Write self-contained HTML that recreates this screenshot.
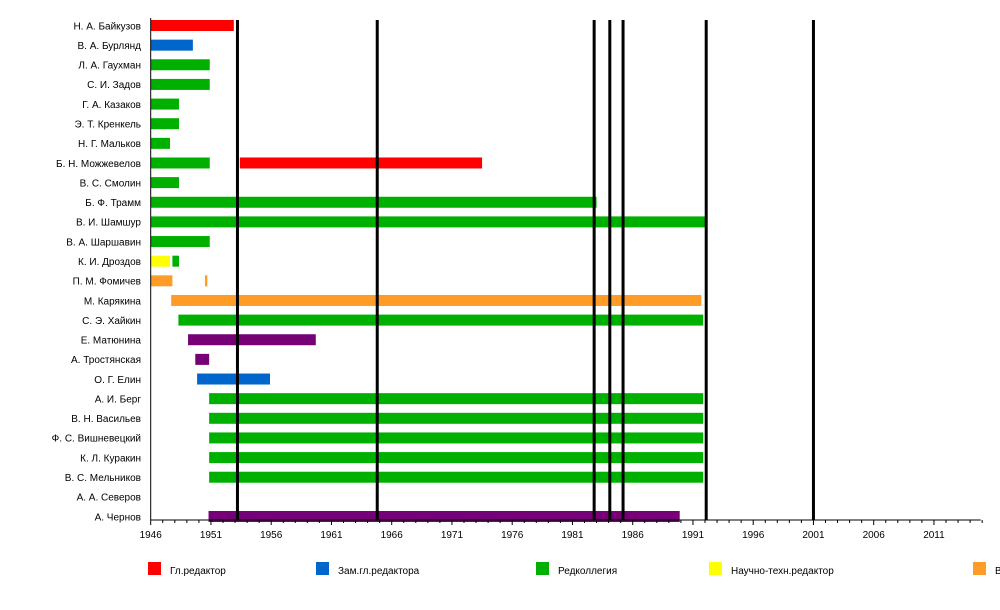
<!DOCTYPE html>
<html><head><meta charset="utf-8"><style>
body{margin:0;background:#fff;}
svg{display:block;font-family:"Liberation Sans","DejaVu Sans",sans-serif;}
</style></head><body>
<svg id="chart" width="1000" height="610"></svg>
<script>
const names=["Н. А. Байкузов","В. А. Бурлянд","Л. А. Гаухман","С. И. Задов","Г. А. Казаков","Э. Т. Кренкель","Н. Г. Мальков","Б. Н. Можжевелов","В. С. Смолин","Б. Ф. Трамм","В. И. Шамшур","В. А. Шаршавин","К. И. Дроздов","П. М. Фомичев","М. Карякина","С. Э. Хайкин","Е. Матюнина","А. Тростянская","О. Г. Елин","А. И. Берг","В. Н. Васильев","Ф. С. Вишневецкий","К. Л. Куракин","В. С. Мельников","А. А. Северов","А. Чернов"];
// segments: [row, start, end, role]
const segRows=[0,1,2,3,4,5,6,7,7,8,9,10,11,12,12,13,13,14,15,16,17,18,19,20,21,22,23,25];
const segStart=[1946,1946,1946,1946,1946,1946,1946,1946,1953.4,1946,1946,1946,1946,1946,1947.8,1946,1950.5,1947.7,1948.3,1949.1,1949.7,1949.85,1950.85,1950.85,1950.85,1950.85,1950.85,1950.8];
const segEnd=[1952.9,1949.5,1950.9,1950.9,1948.35,1948.35,1947.6,1950.9,1973.5,1948.35,1983,1992.1,1950.9,1947.6,1948.35,1947.8,1950.7,1991.7,1991.85,1959.7,1950.85,1955.9,1991.85,1991.85,1991.85,1991.85,1991.85,1989.9];
const segRole=[0,1,2,2,2,2,2,2,0,2,2,2,2,3,2,4,4,4,2,5,5,1,2,2,2,2,2,5];
const roles=["Гл.редактор","Зам.гл.редактора","Редколлегия","Научно-техн.редактор","В"];
const roleColors=["#ff0000","#0066cc","#00b000","#ffff00","#ff9c28","#760076"];
const eventYears=[1953.2,1964.8,1982.8,1984.1,1985.2,1992.1,2001];
const tickYears=[1946,1951,1956,1961,1966,1971,1976,1981,1986,1991,1996,2001,2006,2011];

const NS="http://www.w3.org/2000/svg";
const svg=document.getElementById('chart');
const x0=150.7,pxy=12.05,y0=25.5,rowH=19.64,axisY=520;
const X=y=>x0+(y-1946)*pxy;
const Y=r=>y0+r*rowH;
function mk(t,a,p){const e=document.createElementNS(NS,t);for(const k in a)e.setAttribute(k,a[k]);(p||svg).appendChild(e);return e;}

names.forEach((n,i)=>{
  const t=mk('text',{x:141,y:Y(i)+3.8,'text-anchor':'end','font-size':10,fill:'#000'});
  t.textContent=n;
  
  
});
segRows.forEach((r,i)=>{
  const b=mk('rect',{x:X(segStart[i]),y:Y(r)-5.5,width:Math.max(1.5,X(segEnd[i])-X(segStart[i])),height:11,fill:roleColors[segRole[i]]});
  
  
});
eventYears.forEach(ev=>{
  const l=mk('rect',{x:X(ev)-1.5,y:20,width:3,height:axisY-20,fill:'#000'});
  
  
});
const ax=mk('line',{x1:x0,y1:axisY,x2:980.7,y2:axisY,stroke:'#000','stroke-width':1});


const yl=mk('line',{x1:x0,y1:18,x2:x0,y2:axisY,stroke:'#000','stroke-width':1});


for(let yr=1946;yr<=2015;yr++){
  const major=(yr-1946)%5===0;
  mk('line',{x1:X(yr),y1:axisY,x2:X(yr),y2:axisY+(major?5:3),stroke:'#000','stroke-width':1});
}
tickYears.forEach(t=>{
  const e=mk('text',{x:X(t),y:axisY+18,'text-anchor':'middle','font-size':10,fill:'#000'});
  e.textContent=t;
  
  
});
const legX=[148,316,536,709,973];
roles.forEach((r,i)=>{
  const g=mk('g',{});
  
  
  mk('rect',{x:legX[i],y:562,width:13,height:13,fill:roleColors[i]},g);
  const t=mk('text',{x:legX[i]+22,y:574,'font-size':10,fill:'#000'},g);
  t.textContent=r;
});
</script>
</body></html>
